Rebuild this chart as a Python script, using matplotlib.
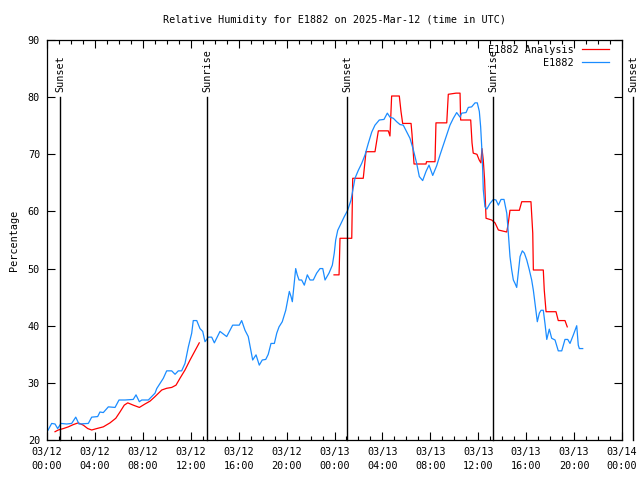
import matplotlib
matplotlib.use('Agg')
import matplotlib.pyplot as plt
import numpy as np

# hours since 03/12 00:00 UTC
obsHours = [0.08, 0.39, 0.67, 0.89, 1.17, 1.64, 2.06, 2.40, 2.67, 3.45, 3.73, 4.23, 4.42, 4.70,
            5.12, 5.68, 6.01, 6.51, 7.20, 7.43, 7.71, 7.91, 8.46, 8.74, 9.02, 9.16, 9.71, 9.99,
            10.41, 10.69, 10.96, 11.24, 11.52, 11.80, 12.08, 12.21, 12.50, 12.77, 13.00, 13.19,
            13.47, 13.75, 13.97, 14.44, 15.00, 15.50, 16.05, 16.25, 16.53, 16.80, 17.17, 17.45,
            17.72, 17.97, 18.26, 18.47, 18.70, 18.98, 19.18, 19.37, 19.64, 19.93, 20.09, 20.23,
            20.37, 20.48, 20.62, 20.76, 20.89, 21.04, 21.26, 21.48, 21.73, 21.96, 22.23, 22.51,
            22.79, 23.02, 23.21, 23.54, 23.82, 23.98, 24.10, 24.27, 24.54, 24.82, 25.10, 25.38,
            25.71, 25.99, 26.27, 26.55, 26.82, 27.11, 27.38, 27.74, 28.13, 28.41, 28.63, 28.91,
            29.19, 29.47, 29.74, 30.03, 30.30, 30.58, 30.86, 31.08, 31.36, 31.64, 31.89, 32.20,
            32.53, 32.81, 33.08, 33.37, 33.64, 33.92, 34.20, 34.48, 34.62, 34.98, 35.17, 35.45,
            35.73, 35.92, 36.09, 36.20, 36.29, 36.37, 36.42, 36.56, 36.71, 36.98, 37.26, 37.48,
            37.68, 37.90, 38.15, 38.38, 38.51, 38.65, 38.79, 38.93, 39.07, 39.21, 39.34, 39.49,
            39.68, 39.85, 40.05, 40.26, 40.46, 40.60, 40.74, 40.93, 41.10, 41.24, 41.43, 41.57,
            41.72, 41.93, 42.13, 42.41, 42.68, 42.97, 43.24, 43.47, 43.66, 43.94, 44.22, 44.35,
            44.44, 44.72]
obsValues = [21.7, 22.9, 22.8, 22.0, 22.9, 22.8, 22.9, 24.0, 22.8, 22.9, 24.0, 24.1, 24.9, 24.8,
             25.8, 25.7, 27.0, 27.0, 27.1, 27.9, 26.7, 27.0, 27.0, 27.6, 28.2, 29.0, 30.8, 32.1,
             32.1, 31.5, 32.1, 32.1, 33.4, 36.3, 38.7, 40.9, 40.9, 39.5, 39.0, 37.2,
             38.0, 38.0, 37.0, 39.0, 38.1, 40.1, 40.1, 40.9, 39.2, 38.1, 34.0, 34.9,
             33.1, 34.0, 34.1, 35.0, 36.9, 36.9, 38.7, 39.8, 40.7, 42.7, 44.5, 46.0,
             45.1, 44.2, 47.1, 50.0, 48.9, 48.0, 48.0, 47.1, 48.9, 48.0, 48.0, 49.2,
             50.0, 50.0, 48.0, 49.2, 50.6, 52.7, 55.0, 56.7, 57.9, 59.1, 60.2, 62.0,
             65.8, 67.2, 68.4, 69.9, 71.9, 73.9, 75.1, 76.0, 76.1, 77.2, 76.5, 76.3,
             75.7, 75.2, 75.1, 73.9, 72.8, 70.8, 68.4, 66.1, 65.4, 67.0, 68.1, 66.3,
             68.0, 69.9, 71.6, 73.4, 75.1, 76.3, 77.3, 76.5, 77.2, 77.3, 78.2, 78.3,
             79.0, 79.0, 77.5, 74.8, 71.3, 67.2, 63.8, 60.8, 60.4, 61.4, 62.1, 62.0,
             61.1, 62.1, 62.1, 59.7, 56.2, 52.1, 49.8, 48.0, 47.4, 46.7, 49.2, 52.1,
             53.1, 52.7, 51.5, 49.8, 48.0, 46.2, 43.9, 40.7, 42.2, 42.7, 42.7, 40.4,
             37.6, 39.4, 37.8, 37.5, 35.6, 35.6, 37.6, 37.6, 36.9, 38.4, 40.0, 36.6,
             36.0, 36.0]

# analysis: first part (overnight) then a gap, then the stepped hourly part
anaHours1 = [0.67, 0.94, 1.36, 1.78, 2.20, 2.61, 3.03, 3.40, 3.73, 4.15, 4.70, 5.26, 5.74, 6.09,
             6.45, 6.74, 7.20, 7.71, 8.18, 8.60, 9.02, 9.58, 9.99, 10.41, 10.77, 11.10, 11.52,
             11.94, 12.35, 12.71]
anaValues1 = [21.45, 21.75, 22.0, 22.3, 22.7, 23.0, 22.6, 22.0, 21.75, 22.0, 22.3, 23.0, 23.8, 24.9,
              26.1, 26.5, 26.1, 25.7, 26.3, 26.8, 27.6, 28.75, 29.05, 29.2, 29.6, 30.8, 32.25,
              34.0, 35.6, 37.0]
anaHours2 = [23.96, 24.38, 24.46, 25.44, 25.52, 26.40, 26.63, 27.38, 27.66, 28.49, 28.63, 28.77,
             29.41, 29.55, 29.69, 30.39, 30.47, 30.64, 31.64, 31.68, 32.39, 32.47, 33.37, 33.50,
             34.15, 34.48, 34.53, 35.37, 35.48, 35.58, 35.89, 36.08, 36.22, 36.31, 36.42, 36.53,
             36.65, 37.12, 37.40, 37.68, 38.38, 38.51, 38.65, 39.43, 39.63, 40.40, 40.55, 40.60,
             41.43, 41.51, 41.66, 42.49, 42.68, 43.24, 43.43]
anaValues2 = [48.9, 48.9, 55.3, 55.3, 65.8, 65.8, 70.45, 70.45, 74.1, 74.1, 73.2, 80.2,
              80.2, 77.5, 75.4, 75.4, 73.5, 68.3, 68.3, 68.7, 68.7, 75.5, 75.5, 80.5,
              80.7, 80.7, 76.0, 76.0, 72.0, 70.2, 70.0, 69.0, 68.5, 71.0, 69.0, 65.5,
              58.8, 58.5, 58.0, 56.75, 56.4, 58.0, 60.2, 60.2, 61.7, 61.7, 56.2, 49.75,
              49.75, 46.25, 42.45, 42.45, 40.9, 40.9, 39.8]

sunEvents = ['Sunset', 'Sunrise', 'Sunset', 'Sunrise', 'Sunset']
sunHours = [1.08, 13.36, 25.04, 37.23, 48.92]

tickHours = list(range(0, 49, 4))
tickLabels = ['03/12\n00:00', '03/12\n04:00', '03/12\n08:00', '03/12\n12:00', '03/12\n16:00',
              '03/12\n20:00', '03/13\n00:00', '03/13\n04:00', '03/13\n08:00', '03/13\n12:00',
              '03/13\n16:00', '03/13\n20:00', '03/14\n00:00']

plt.rcParams['font.family'] = 'DejaVu Sans Mono'
plt.rcParams['font.size'] = 7.3

fig = plt.figure(figsize=(6.4, 4.8), dpi=100)
ax = fig.add_axes([47/640, 40/480, 575/640, 400/480])

redColor = '#ff0000'
blueColor = '#1a8cff'

ax.plot(anaHours1, anaValues1, color=redColor, lw=0.9, label='E1882 Analysis')
ax.plot(anaHours2, anaValues2, color=redColor, lw=0.9)
ax.plot(obsHours, obsValues, color=blueColor, lw=0.9, label='E1882')

# sunrise / sunset markers, last one sits past the right edge
for name, h in zip(sunEvents, sunHours):
    ax.plot([h, h], [20, 80], color='black', lw=1.0, clip_on=False)
    ax.text(h, 80.9, name, rotation=90, ha='center', va='bottom', clip_on=False)

ax.set_xlim(0, 48)
ax.set_ylim(20, 90)
ax.set_xticks(tickHours)
ax.set_xticklabels(tickLabels, linespacing=1.5)
ax.set_xticks(np.arange(0, 49, 1), minor=True)
ax.set_yticks(np.arange(20, 91, 10))

ax.tick_params(which='both', direction='in', top=True, right=True, width=0.8)
ax.tick_params(which='major', length=6, pad=5)
ax.tick_params(which='minor', length=3)
for s in ax.spines.values():
    s.set_linewidth(0.9)

ax.set_ylabel('Percentage', labelpad=6)
ax.set_title('Relative Humidity for E1882 on 2025-Mar-12 (time in UTC)', fontsize=7.3, pad=12)

plt.legend(loc='upper right', bbox_to_anchor=(0.978, 0.988), frameon=False, markerfirst=False,
           handlelength=2.7, handletextpad=0.8, labelspacing=0.3, borderaxespad=0, borderpad=0)

plt.savefig('out.png', dpi=100)
